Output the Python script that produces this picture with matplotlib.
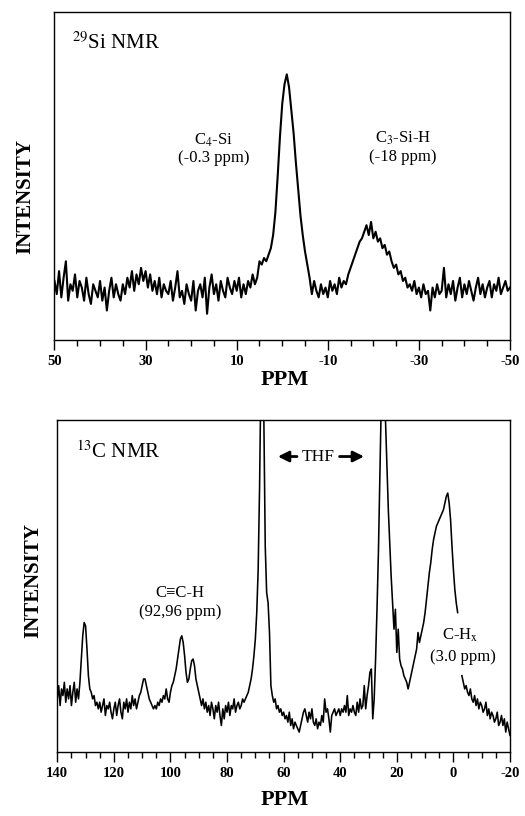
import numpy as np
import matplotlib
matplotlib.use("Agg")
import matplotlib.pyplot as plt

plt.rcParams['font.family'] = ['Liberation Serif', 'DejaVu Serif']
plt.rcParams['mathtext.fontset'] = 'stix'
plt.rcParams['axes.unicode_minus'] = False

# 29Si spectrum, sampled every 0.5 ppm from 50 down to -50 (intensity in % of panel height)
si_ppm = np.arange(50, -50.01, -0.5)
si_int = [
    18, 14, 21, 13, 19, 24, 12, 17, 15, 20,
    13, 18, 16, 12, 19, 14, 11, 17, 15, 13,
    18, 12, 16, 9, 15, 19, 13, 17, 14, 12,
    17, 14, 19, 16, 21, 15, 20, 17, 22, 18,
    21, 16, 20, 15, 18, 14, 19, 13, 17, 15,
    14, 18, 12, 16, 21, 13, 15, 11, 17, 14,
    12, 18, 9, 15, 17, 13, 19, 8, 16, 20,
    14, 17, 12, 18, 15, 13, 19, 16, 14, 18,
    15, 19, 13, 17, 14, 18, 16, 20, 17, 19,
    24, 23, 25, 24, 26, 28, 32, 39, 50, 62,
    72, 78, 81, 77, 70, 63, 54, 46, 38, 32,
    27, 23, 19, 14, 18, 15, 13, 17, 14, 16,
    13, 18, 15, 17, 14, 19, 16, 18, 17, 20,
    22, 24, 26, 28, 30, 31, 33, 35, 32, 36,
    31, 33, 30, 31, 28, 29, 26, 27, 24, 22,
    23, 20, 21, 18, 19, 16, 17, 15, 18, 14,
    16, 13, 17, 14, 15, 9, 16, 13, 17, 14,
    15, 22, 13, 17, 14, 18, 12, 16, 19, 13,
    17, 14, 18, 15, 12, 16, 19, 14, 17, 13,
    16, 18, 13, 17, 15, 19, 14, 16, 18, 15,
    16,
]

# 13C spectrum, sampled every 0.5 ppm from 140 down to -20 (THF peaks run off scale)
c_ppm = np.arange(140, -20.01, -0.5)
nan = np.nan
c_int = [
    16, 20, 14, 19, 17, 21, 15, 19, 16, 20,
    14, 18, 21, 15, 19, 16, 21, 28, 35, 39,
    38, 31, 23, 19, 18, 16, 17, 14, 15, 13,
    15, 12, 14, 16, 11, 14, 13, 15, 12, 10,
    13, 15, 11, 14, 16, 12, 10, 15, 13, 16,
    12, 15, 13, 17, 14, 16, 13, 15, 17, 18,
    20, 22, 22, 20, 18, 16, 15, 14, 13, 14,
    13, 15, 14, 16, 15, 17, 16, 19, 16, 15,
    18, 20, 21, 23, 25, 28, 31, 34, 35, 33,
    29, 24, 21, 22, 25, 27.5, 28, 26, 22, 20,
    18, 16, 14, 16, 13, 15, 12, 14, 11, 15,
    13, 10, 14, 12, 15, 11, 8, 13, 10, 14,
    12, 15, 11, 14, 13, 16, 12, 14, 15, 13,
    14, 16, 15, 16, 17, 18, 20, 22, 25, 29,
    34, 42, 55, 80, 115, 140, 100, 62, 48, 45,
    36, 20, 17, 15, 16, 13, 14, 12, 13, 11,
    12, 10, 11, 9, 12, 8, 10, 7, 9, 8,
    7, 6, 8, 10, 12, 13, 11, 9, 12, 10,
    13, 9, 8, 10, 7, 9, 8, 11, 9, 16,
    12, 13, 10, 6, 11, 12, 13, 11, 12, 13,
    11, 13, 12, 14, 12, 17, 11, 13, 12, 14,
    12, 11, 15, 12, 16, 13, 14, 20, 13, 17,
    20, 24, 25, 10, 16, 28, 43, 60, 82, 105,
    150, 130, 100, 86, 73, 63, 53, 45, 37, 43,
    30, 37, 28, 26, 25, 23, 22, 21, 19, 21,
    23, 25, 27, 29, 31, 36, 33, 35, 37, 39,
    42, 46, 50, 54, 57, 61, 64, 66, 68, 69,
    70, 71, 72, 73, 75, 77, 78, 75, 70, 62,
    55, 49, 45, 42, nan, nan, 23, 21, 19, 20,
    18, 17, 19, 16, 15, 17, 14, 16, 13, 15,
    14, 12, 13, 15, 11, 13, 10, 12, 11, 9,
    10, 12, 8, 9, 11, 8, 10, 6, 9, 7,
    5,
]

si_ticks = [50, 30, 10, -10, -30, -50]
c_ticks = [140, 120, 100, 80, 60, 40, 20, 0, -20]


def style_axis(ax, lo, hi, ticks):
    ax.set_xlim(lo, hi)
    ax.set_ylim(0, 100)
    ax.set_yticks([])
    ax.set_xticks(ticks)
    ax.set_xticks(np.arange(hi, lo + 0.1, 5), minor=True)
    ax.tick_params(axis='x', which='major', direction='out', length=7, width=1,
                   labelsize=10.5, pad=4)
    ax.tick_params(axis='x', which='minor', direction='out', length=4, width=1)
    for lab in ax.get_xticklabels():
        lab.set_fontweight('bold')
    for sp in ax.spines.values():
        sp.set_linewidth(1)


fig = plt.figure(figsize=(5.25, 8.16), dpi=100)

# top panel: 29Si
ax1 = fig.add_axes([0.1038, 0.5833, 0.8676, 0.402])
ax1.plot(si_ppm, si_int, color='black', lw=1.5)
style_axis(ax1, 50, -50, si_ticks)
ax1.text(46.2, 90.5, r'$^{29}$Si NMR', fontsize=15, ha='left', va='center')
ax1.text(15, 61, r'C$_4$-Si', fontsize=12, ha='center', va='center')
ax1.text(15, 55.5, '(-0.3 ppm)', fontsize=12, ha='center', va='center')
ax1.text(-26.5, 61.6, r'C$_3$-Si-H', fontsize=12, ha='center', va='center')
ax1.text(-26.5, 55.8, '(-18 ppm)', fontsize=12, ha='center', va='center')

# bottom panel: 13C
ax2 = fig.add_axes([0.1091, 0.0784, 0.8623, 0.4069])
ax2.plot(c_ppm, c_int, color='black', lw=1.15)
style_axis(ax2, 140, -20, c_ticks)
ax2.text(133.4, 90.4, r'$^{13}$C NMR', fontsize=15, ha='left', va='center')
ax2.text(47.7, 89, 'THF', fontsize=12.5, ha='center', va='center')
arrow = dict(arrowstyle='-|>', color='black', lw=2, mutation_scale=16)
ax2.annotate('', xy=(63, 89), xytext=(54.3, 89), arrowprops=arrow)
ax2.annotate('', xy=(30.6, 89), xytext=(41.2, 89), arrowprops=arrow)
ax2.text(96.6, 47.8, 'C\u2261C-H', fontsize=12, ha='center', va='center')
ax2.text(96.6, 42.2, '(92,96 ppm)', fontsize=12, ha='center', va='center')
ax2.text(-2.3, 35.2, r'C-H$_\mathrm{x}$', fontsize=12, ha='center', va='center')
ax2.text(-3.4, 28.7, '(3.0 ppm)', fontsize=12, ha='center', va='center')

# axis titles
fig.text(0.048, 0.7586, 'INTENSITY', rotation=90, fontsize=15, fontweight='bold',
         ha='center', va='center')
fig.text(0.063, 0.289, 'INTENSITY', rotation=90, fontsize=15, fontweight='bold',
         ha='center', va='center')
fig.text(0.543, 0.5343, 'PPM', fontsize=16, fontweight='bold', ha='center', va='center')
fig.text(0.543, 0.019, 'PPM', fontsize=16, fontweight='bold', ha='center', va='center')

fig.savefig('out.png', dpi=100)
